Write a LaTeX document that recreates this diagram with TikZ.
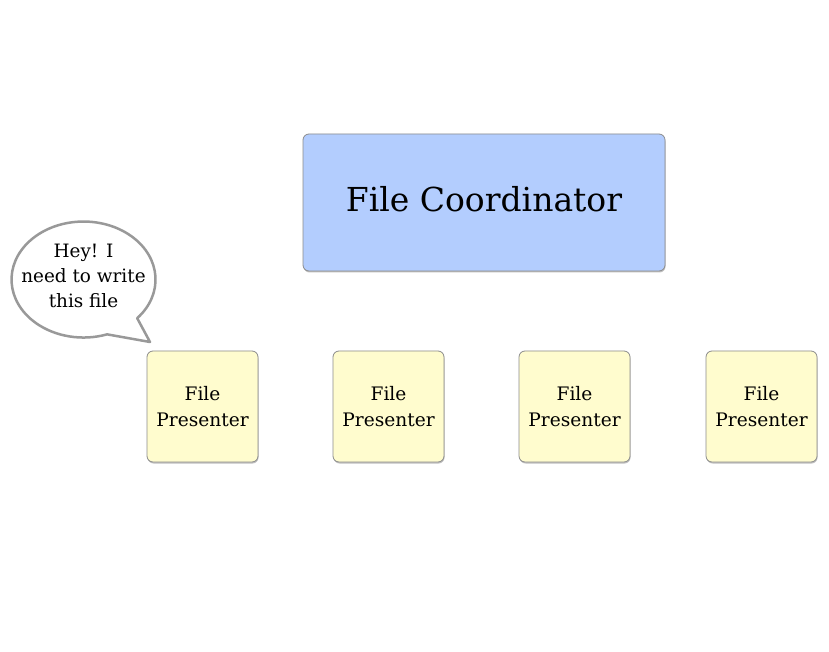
\documentclass[tikz,border=0pt]{standalone}
\usepackage{fontspec}
\setmainfont{DejaVu Serif}
\usetikzlibrary{shadows}
\definecolor{coordfill}{HTML}{B3CDFE}
\definecolor{presfill}{HTML}{FFFCCE}
\definecolor{edgegray}{HTML}{8C8C8C}
\definecolor{bubblegray}{HTML}{999999}
\tikzset{
  coordbox/.style={draw=edgegray, line width=0.8pt, fill=coordfill, rounded corners=6pt,
    minimum width=362pt, minimum height=137pt, inner sep=0pt,
    drop shadow={opacity=0.25, shadow xshift=0.5pt, shadow yshift=-1.5pt, fill=black}},
  coordtext/.style={inner sep=0pt, font=\fontsize{33}{40}\selectfont},
  presbox/.style={draw=edgegray, line width=0.8pt, fill=presfill, rounded corners=6pt,
    minimum width=111pt, minimum height=111pt, inner sep=0pt, align=center,
    font=\fontsize{18.6}{26}\selectfont,
    drop shadow={opacity=0.25, shadow xshift=0.5pt, shadow yshift=-1.5pt, fill=black}},
  bubbletext/.style={align=center, inner sep=0pt, font=\fontsize{18.4}{25}\selectfont},
}
\begin{document}
\begin{tikzpicture}[x=1pt,y=1pt]
\useasboundingbox (0,0) rectangle (829,651);
\fill[white] (0,0) rectangle (829,651);
\node[coordbox] (coord) at (484,448.5) {};
\node[coordtext] (coordlabel) at (484,452) {File Coordinator};
\node[presbox] (p1) at (202.5,244.5) {File\\Presenter};
\node[presbox] (p2) at (388.5,244.5) {File\\Presenter};
\node[presbox] (p3) at (574.5,244.5) {File\\Presenter};
\node[presbox] (p4) at (761.5,244.5) {File\\Presenter};
% speech bubble
\coordinate (tip) at (150,309);
\draw[draw=bubblegray, line width=2.5pt, fill=white, line join=round]
  (137.2,332.8) arc[start angle=-41.8, end angle=289.1, x radius=72, y radius=58]
  -- (tip) -- cycle;
\node[bubbletext] (bubble) at (83.5,375) {Hey! I\\need to write\\this file};
\end{tikzpicture}
\end{document}
